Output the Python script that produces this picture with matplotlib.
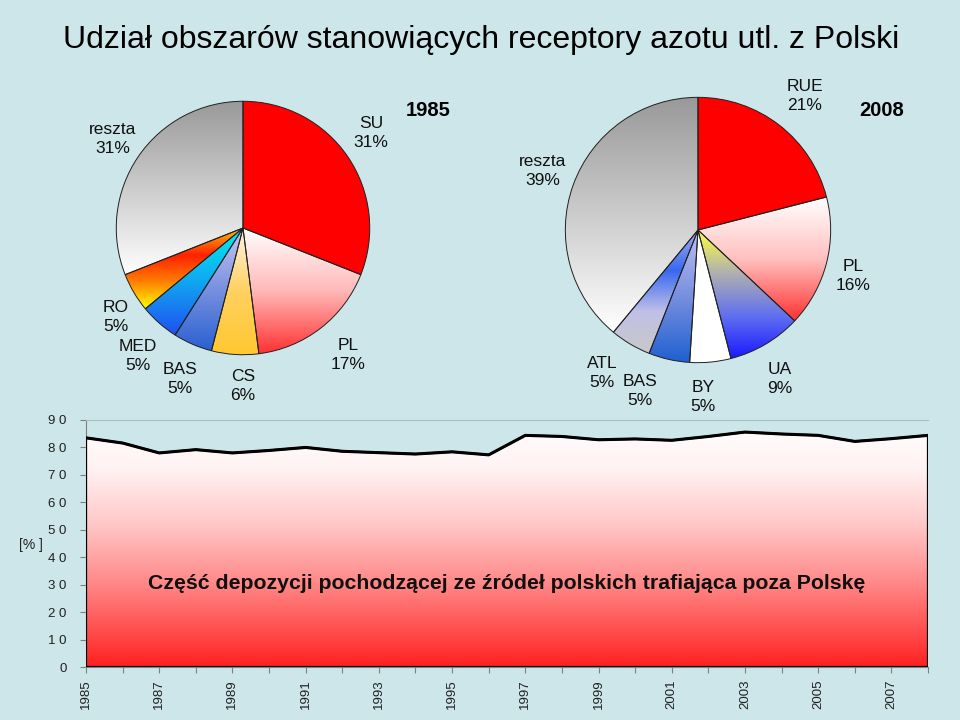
import numpy as np
import matplotlib
matplotlib.use('Agg')
import matplotlib.pyplot as plt
from matplotlib.colors import LinearSegmentedColormap
from matplotlib.patches import Polygon

plt.rcParams['font.family'] = ['Liberation Sans', 'DejaVu Sans']

# dane
years = np.arange(1985, 2009)
share = [83.5, 81.6, 78.0, 79.2, 78.0, 78.9, 80.0, 78.6, 78.1, 77.6, 78.4, 77.3,
         84.4, 84.0, 82.8, 83.1, 82.6, 84.0, 85.6, 84.9, 84.4, 82.2, 83.2, 84.4]

pie85_names = ['SU', 'PL', 'CS', 'BAS', 'MED', 'RO', 'reszta']
pie85_vals = [31, 17, 6, 5, 5, 5, 31]
pie08_names = ['RUE', 'PL', 'UA', 'BY', 'BAS', 'ATL', 'reszta']
pie08_vals = [21, 16, 9, 5, 5, 5, 39]

pie85_cols = [['#ff0000', '#ff0000'],
              ['#ffffff', '#ffb8b8', '#ff3030'],
              ['#fff4e4', '#ffd060', '#ffc830'],
              ['#c8c8f0', '#7890e0', '#2860d0'],
              ['#00f0f0', '#10a8f0', '#2050f0'],
              ['#ffc000', '#ff2000', '#ff8000', '#ffff00'],
              ['#999999', '#cccccc', '#ffffff']]
pie08_cols = [['#ff0000', '#ff0000'],
              ['#ffffff', '#ffc0c0', '#ff3030'],
              ['#ffff40', '#b0b0b0', '#6070f0', '#1818ff'],
              ['#ffffff', '#ffffff'],
              ['#c0c0f0', '#7890e0', '#2060d0'],
              ['#a8b0f0', '#3868f0', '#c0c0e8', '#c8c8c8'],
              ['#999999', '#cccccc', '#ffffff']]

bg = '#cde6ea'
W, H = 960, 720


def fx(x):
    return x / W


def fy(y):
    return 1 - y / H


def gradient_pie(ax, vals, cols):
    wedges, _ = ax.pie(vals, startangle=90, counterclock=False, radius=1,
                       wedgeprops=dict(edgecolor='#202020', linewidth=0.7))
    for w, c in zip(wedges, cols):
        w.set_facecolor('none')
        w.set_zorder(3)
        bb = w.get_path().get_extents()
        cmap = LinearSegmentedColormap.from_list('g', c)
        img = ax.imshow(np.linspace(0, 1, 256).reshape(-1, 1), cmap=cmap,
                        extent=[bb.x0, bb.x1, bb.y0, bb.y1], origin='upper',
                        aspect='auto', zorder=2)
        img.set_clip_path(w)
    ax.set_xlim(-1.01, 1.01)
    ax.set_ylim(-1.01, 1.01)
    ax.set_aspect('equal')
    ax.axis('off')


fig = plt.figure(figsize=(9.6, 7.2), dpi=100, facecolor=bg)

# wykres liniowy
ax = fig.add_axes([fx(86), fy(667), fx(928) - fx(86), fy(420) - fy(667)])
ax.set_facecolor(bg)
ax.set_xlim(1985, 2008)
ax.set_ylim(0, 90)

area_cmap = LinearSegmentedColormap.from_list(
    'area', [(0, '#ff2020'), (0.12, '#ff4646'), (0.35, '#ff8c8c'),
             (0.58, '#ffc8c8'), (0.8, '#fff2f2'), (1, '#ffffff')])
img = ax.imshow(np.linspace(0, 90, 256).reshape(-1, 1), cmap=area_cmap,
                extent=[1985, 2008, 0, 90], origin='lower', aspect='auto',
                vmin=0, vmax=90, zorder=1)
verts = [(years[0], 0)] + list(zip(years, share)) + [(years[-1], 0)]
poly = Polygon(verts, closed=True, facecolor='none', edgecolor='black', lw=1.6, zorder=3)
ax.add_patch(poly)
img.set_clip_path(poly)
ax.plot(years, share, color='black', lw=2.2, zorder=4)

ax.set_yticks(range(0, 91, 10))
ax.set_yticklabels([' '.join(str(v)) for v in range(0, 91, 10)], fontsize=9.5)
ax.set_xticks(years)
ax.set_xticklabels([str(y) if (y - 1985) % 2 == 0 and y < 2008 else '' for y in years],
                   rotation=90, fontsize=9.5)
ax.tick_params(axis='both', direction='out', length=4, color='#808080', labelcolor='#202020')
ax.tick_params(axis='y', pad=10)
ax.tick_params(axis='x', pad=5)
for s in ['left', 'bottom']:
    ax.spines[s].set_color('#808080')
ax.spines['top'].set_color('#a8c0c4')
ax.spines['right'].set_visible(False)
fig.text(fx(31), fy(545), '[% ]', fontsize=10, ha='center', va='center', color='#202020')

ax.text(0.5, 0.34, 'Część depozycji pochodzącej ze źródeł polskich trafiająca poza Polskę',
        transform=ax.transAxes, ha='center', va='center', fontsize=15.3,
        fontweight='bold', color='#101010', zorder=5)

# wykresy kołowe
r1, c1 = 128, (243, 228)
ax1 = fig.add_axes([fx(c1[0] - r1), fy(c1[1] + r1), 2 * r1 / W, 2 * r1 / H])
gradient_pie(ax1, pie85_vals, pie85_cols)
r2, c2 = 134, (698, 230)
ax2 = fig.add_axes([fx(c2[0] - r2), fy(c2[1] + r2), 2 * r2 / W, 2 * r2 / H])
gradient_pie(ax2, pie08_vals, pie08_cols)

lab85 = {'SU': (371, 133), 'PL': (348, 355), 'CS': (243, 386), 'BAS': (180, 379),
         'MED': (138, 356), 'RO': (116, 317), 'reszta': (113, 139)}
lab08 = {'RUE': (805, 96), 'PL': (853, 276), 'UA': (780, 379), 'BY': (703, 397),
         'BAS': (640, 391), 'ATL': (602, 373), 'reszta': (543, 171)}
for names, vals, pos in [(pie85_names, pie85_vals, lab85), (pie08_names, pie08_vals, lab08)]:
    for n, v in zip(names, vals):
        x, y = pos[n]
        fig.text(fx(x), fy(y), f'{n}\n{v}%', fontsize=12.5, ha='center', va='center',
                 linespacing=1.3, color='#101010')

fig.text(fx(428), fy(110), '1985', fontsize=14.5, fontweight='bold', ha='center', va='center')
fig.text(fx(882), fy(110), '2008', fontsize=14.5, fontweight='bold', ha='center', va='center')

fig.text(fx(481), fy(40), 'Udział obszarów stanowiących receptory azotu utl. z Polski',
         fontsize=23, ha='center', va='center', color='#000000')

plt.savefig('out.png', dpi=100, facecolor=bg)
